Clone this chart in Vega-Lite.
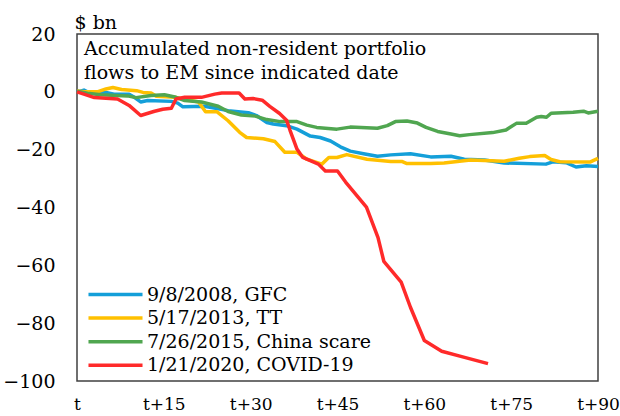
{
  "$schema": "https://vega.github.io/schema/vega-lite/v6.json",
  "width": 521,
  "height": 347,
  "autosize": "none",
  "padding": {"left": 77, "top": 34, "right": 22, "bottom": 35},
  "config": {
    "view": {"stroke": "#404040", "strokeWidth": 1.5},
    "font": "DejaVu Serif"
  },
  "title": {
    "text": ["Accumulated non-resident portfolio", "flows to EM since indicated date"],
    "anchor": "start",
    "frame": "group",
    "offset": -70,
    "dx": 7,
    "fontSize": 19,
    "fontWeight": "normal",
    "font": "DejaVu Serif",
    "color": "#000000",
    "lineHeight": 24,
    "baseline": "top"
  },
  "datasets": {
    "flows": [
      {"event": "9/8/2008, GFC", "day": 0, "flow": 0},
      {"event": "9/8/2008, GFC", "day": 1.2, "flow": 0.6},
      {"event": "9/8/2008, GFC", "day": 1.8, "flow": 0},
      {"event": "9/8/2008, GFC", "day": 5, "flow": -0.2},
      {"event": "9/8/2008, GFC", "day": 6.4, "flow": -0.8},
      {"event": "9/8/2008, GFC", "day": 9, "flow": -0.8},
      {"event": "9/8/2008, GFC", "day": 9.9, "flow": -1.9},
      {"event": "9/8/2008, GFC", "day": 11, "flow": -3.5},
      {"event": "9/8/2008, GFC", "day": 12.2, "flow": -3},
      {"event": "9/8/2008, GFC", "day": 16.3, "flow": -3.3},
      {"event": "9/8/2008, GFC", "day": 17.4, "flow": -3.9},
      {"event": "9/8/2008, GFC", "day": 18.3, "flow": -5.2},
      {"event": "9/8/2008, GFC", "day": 22, "flow": -5},
      {"event": "9/8/2008, GFC", "day": 26.1, "flow": -6.5},
      {"event": "9/8/2008, GFC", "day": 29.6, "flow": -7.2},
      {"event": "9/8/2008, GFC", "day": 31, "flow": -8.2},
      {"event": "9/8/2008, GFC", "day": 32.8, "flow": -10.6},
      {"event": "9/8/2008, GFC", "day": 33.9, "flow": -11.1},
      {"event": "9/8/2008, GFC", "day": 36.2, "flow": -11.7},
      {"event": "9/8/2008, GFC", "day": 38, "flow": -12.9},
      {"event": "9/8/2008, GFC", "day": 40.3, "flow": -15.3},
      {"event": "9/8/2008, GFC", "day": 42, "flow": -15.8},
      {"event": "9/8/2008, GFC", "day": 43.8, "flow": -17},
      {"event": "9/8/2008, GFC", "day": 45.5, "flow": -19},
      {"event": "9/8/2008, GFC", "day": 47.2, "flow": -20.5},
      {"event": "9/8/2008, GFC", "day": 49.5, "flow": -21.4},
      {"event": "9/8/2008, GFC", "day": 51.9, "flow": -22.3},
      {"event": "9/8/2008, GFC", "day": 54.2, "flow": -21.8},
      {"event": "9/8/2008, GFC", "day": 57.6, "flow": -21.4},
      {"event": "9/8/2008, GFC", "day": 61.1, "flow": -22.5},
      {"event": "9/8/2008, GFC", "day": 64.6, "flow": -22.3},
      {"event": "9/8/2008, GFC", "day": 66.9, "flow": -23.3},
      {"event": "9/8/2008, GFC", "day": 70.4, "flow": -23.6},
      {"event": "9/8/2008, GFC", "day": 73.8, "flow": -24.6},
      {"event": "9/8/2008, GFC", "day": 81, "flow": -25},
      {"event": "9/8/2008, GFC", "day": 82.2, "flow": -24.2},
      {"event": "9/8/2008, GFC", "day": 84.5, "flow": -24.5},
      {"event": "9/8/2008, GFC", "day": 86.2, "flow": -26},
      {"event": "9/8/2008, GFC", "day": 88, "flow": -25.6},
      {"event": "9/8/2008, GFC", "day": 90, "flow": -25.8},

      {"event": "5/17/2013, TT", "day": 0, "flow": 0.3},
      {"event": "5/17/2013, TT", "day": 1.2, "flow": 0},
      {"event": "5/17/2013, TT", "day": 3.5, "flow": 0},
      {"event": "5/17/2013, TT", "day": 5, "flow": 1},
      {"event": "5/17/2013, TT", "day": 6.2, "flow": 1.5},
      {"event": "5/17/2013, TT", "day": 7.7, "flow": 0.8},
      {"event": "5/17/2013, TT", "day": 10.3, "flow": 0.4},
      {"event": "5/17/2013, TT", "day": 11.4, "flow": -0.2},
      {"event": "5/17/2013, TT", "day": 12.8, "flow": -0.4},
      {"event": "5/17/2013, TT", "day": 13.7, "flow": -1.5},
      {"event": "5/17/2013, TT", "day": 16.9, "flow": -1.9},
      {"event": "5/17/2013, TT", "day": 21, "flow": -3.5},
      {"event": "5/17/2013, TT", "day": 22.2, "flow": -6.9},
      {"event": "5/17/2013, TT", "day": 24.2, "flow": -6.9},
      {"event": "5/17/2013, TT", "day": 26.1, "flow": -10},
      {"event": "5/17/2013, TT", "day": 28.1, "flow": -14},
      {"event": "5/17/2013, TT", "day": 29.3, "flow": -15.8},
      {"event": "5/17/2013, TT", "day": 32.2, "flow": -16.2},
      {"event": "5/17/2013, TT", "day": 34.2, "flow": -17.2},
      {"event": "5/17/2013, TT", "day": 35.9, "flow": -20.9},
      {"event": "5/17/2013, TT", "day": 38, "flow": -20.9},
      {"event": "5/17/2013, TT", "day": 39.7, "flow": -23.3},
      {"event": "5/17/2013, TT", "day": 42.3, "flow": -25},
      {"event": "5/17/2013, TT", "day": 43.5, "flow": -22.7},
      {"event": "5/17/2013, TT", "day": 44.9, "flow": -22.7},
      {"event": "5/17/2013, TT", "day": 46.6, "flow": -21.7},
      {"event": "5/17/2013, TT", "day": 50.1, "flow": -23.3},
      {"event": "5/17/2013, TT", "day": 54.2, "flow": -24.1},
      {"event": "5/17/2013, TT", "day": 56.2, "flow": -24.1},
      {"event": "5/17/2013, TT", "day": 57, "flow": -24.8},
      {"event": "5/17/2013, TT", "day": 61.1, "flow": -24.8},
      {"event": "5/17/2013, TT", "day": 63.4, "flow": -24.6},
      {"event": "5/17/2013, TT", "day": 68, "flow": -23.6},
      {"event": "5/17/2013, TT", "day": 73.8, "flow": -24},
      {"event": "5/17/2013, TT", "day": 76.4, "flow": -23},
      {"event": "5/17/2013, TT", "day": 78.2, "flow": -22.4},
      {"event": "5/17/2013, TT", "day": 80.8, "flow": -22},
      {"event": "5/17/2013, TT", "day": 81.9, "flow": -23.4},
      {"event": "5/17/2013, TT", "day": 83.4, "flow": -24.2},
      {"event": "5/17/2013, TT", "day": 88.6, "flow": -24.3},
      {"event": "5/17/2013, TT", "day": 90, "flow": -23},

      {"event": "7/26/2015, China scare", "day": 0, "flow": 0.2},
      {"event": "7/26/2015, China scare", "day": 1.8, "flow": -0.5},
      {"event": "7/26/2015, China scare", "day": 4.1, "flow": -1},
      {"event": "7/26/2015, China scare", "day": 8.7, "flow": -1.4},
      {"event": "7/26/2015, China scare", "day": 10.2, "flow": -2},
      {"event": "7/26/2015, China scare", "day": 12.8, "flow": -1.3},
      {"event": "7/26/2015, China scare", "day": 15.1, "flow": -1},
      {"event": "7/26/2015, China scare", "day": 17.1, "flow": -1.9},
      {"event": "7/26/2015, China scare", "day": 18.6, "flow": -3},
      {"event": "7/26/2015, China scare", "day": 21.5, "flow": -3.5},
      {"event": "7/26/2015, China scare", "day": 24.4, "flow": -5},
      {"event": "7/26/2015, China scare", "day": 26.1, "flow": -6.8},
      {"event": "7/26/2015, China scare", "day": 28.4, "flow": -8},
      {"event": "7/26/2015, China scare", "day": 30.8, "flow": -8.4},
      {"event": "7/26/2015, China scare", "day": 32.8, "flow": -9.6},
      {"event": "7/26/2015, China scare", "day": 35.1, "flow": -10.3},
      {"event": "7/26/2015, China scare", "day": 38, "flow": -10.3},
      {"event": "7/26/2015, China scare", "day": 39.7, "flow": -11.5},
      {"event": "7/26/2015, China scare", "day": 41.4, "flow": -12.3},
      {"event": "7/26/2015, China scare", "day": 44.9, "flow": -12.9},
      {"event": "7/26/2015, China scare", "day": 47.2, "flow": -12.2},
      {"event": "7/26/2015, China scare", "day": 51.9, "flow": -12.6},
      {"event": "7/26/2015, China scare", "day": 53.6, "flow": -11.7},
      {"event": "7/26/2015, China scare", "day": 55, "flow": -10.3},
      {"event": "7/26/2015, China scare", "day": 57, "flow": -10.1},
      {"event": "7/26/2015, China scare", "day": 58.8, "flow": -10.8},
      {"event": "7/26/2015, China scare", "day": 60.3, "flow": -12.3},
      {"event": "7/26/2015, China scare", "day": 62.3, "flow": -13.7},
      {"event": "7/26/2015, China scare", "day": 64.6, "flow": -14.6},
      {"event": "7/26/2015, China scare", "day": 66.1, "flow": -15.2},
      {"event": "7/26/2015, China scare", "day": 67.8, "flow": -14.8},
      {"event": "7/26/2015, China scare", "day": 71.8, "flow": -14.1},
      {"event": "7/26/2015, China scare", "day": 74.1, "flow": -13.2},
      {"event": "7/26/2015, China scare", "day": 75.9, "flow": -10.9},
      {"event": "7/26/2015, China scare", "day": 77.6, "flow": -10.9},
      {"event": "7/26/2015, China scare", "day": 79.4, "flow": -8.8},
      {"event": "7/26/2015, China scare", "day": 80.2, "flow": -8.5},
      {"event": "7/26/2015, China scare", "day": 81.1, "flow": -8.8},
      {"event": "7/26/2015, China scare", "day": 81.9, "flow": -7.4},
      {"event": "7/26/2015, China scare", "day": 85.7, "flow": -7.1},
      {"event": "7/26/2015, China scare", "day": 87.5, "flow": -6.7},
      {"event": "7/26/2015, China scare", "day": 88.3, "flow": -7.3},
      {"event": "7/26/2015, China scare", "day": 90, "flow": -6.7},

      {"event": "1/21/2020, COVID-19", "day": 0, "flow": 0},
      {"event": "1/21/2020, COVID-19", "day": 1.2, "flow": -0.8},
      {"event": "1/21/2020, COVID-19", "day": 3, "flow": -2},
      {"event": "1/21/2020, COVID-19", "day": 7, "flow": -2.5},
      {"event": "1/21/2020, COVID-19", "day": 9, "flow": -4.7},
      {"event": "1/21/2020, COVID-19", "day": 11, "flow": -8.2},
      {"event": "1/21/2020, COVID-19", "day": 13.4, "flow": -6.7},
      {"event": "1/21/2020, COVID-19", "day": 14.8, "flow": -6},
      {"event": "1/21/2020, COVID-19", "day": 16.3, "flow": -5.7},
      {"event": "1/21/2020, COVID-19", "day": 17.1, "flow": -2.5},
      {"event": "1/21/2020, COVID-19", "day": 18.6, "flow": -1.9},
      {"event": "1/21/2020, COVID-19", "day": 21.5, "flow": -1.9},
      {"event": "1/21/2020, COVID-19", "day": 23.8, "flow": -0.8},
      {"event": "1/21/2020, COVID-19", "day": 25, "flow": -0.4},
      {"event": "1/21/2020, COVID-19", "day": 28, "flow": -0.4},
      {"event": "1/21/2020, COVID-19", "day": 29, "flow": -2.5},
      {"event": "1/21/2020, COVID-19", "day": 30.4, "flow": -2.3},
      {"event": "1/21/2020, COVID-19", "day": 32, "flow": -2.9},
      {"event": "1/21/2020, COVID-19", "day": 33.3, "flow": -5},
      {"event": "1/21/2020, COVID-19", "day": 35, "flow": -7.5},
      {"event": "1/21/2020, COVID-19", "day": 36.2, "flow": -9.8},
      {"event": "1/21/2020, COVID-19", "day": 36.8, "flow": -13.3},
      {"event": "1/21/2020, COVID-19", "day": 38, "flow": -19.8},
      {"event": "1/21/2020, COVID-19", "day": 39, "flow": -22.7},
      {"event": "1/21/2020, COVID-19", "day": 41.7, "flow": -25},
      {"event": "1/21/2020, COVID-19", "day": 42.9, "flow": -27.4},
      {"event": "1/21/2020, COVID-19", "day": 45, "flow": -27.4},
      {"event": "1/21/2020, COVID-19", "day": 46.4, "flow": -31.2},
      {"event": "1/21/2020, COVID-19", "day": 50, "flow": -39.9},
      {"event": "1/21/2020, COVID-19", "day": 52, "flow": -50.4},
      {"event": "1/21/2020, COVID-19", "day": 53, "flow": -58.6},
      {"event": "1/21/2020, COVID-19", "day": 56, "flow": -65.8},
      {"event": "1/21/2020, COVID-19", "day": 57.6, "flow": -74.5},
      {"event": "1/21/2020, COVID-19", "day": 60, "flow": -86},
      {"event": "1/21/2020, COVID-19", "day": 63, "flow": -89.7},
      {"event": "1/21/2020, COVID-19", "day": 66.3, "flow": -91.5},
      {"event": "1/21/2020, COVID-19", "day": 71, "flow": -94}
    ]
  },
  "layer": [
    {
      "data": {"name": "flows"},
      "mark": {"type": "line", "strokeWidth": 3.5, "strokeCap": "butt", "strokeJoin": "round"},
      "encoding": {
        "x": {
          "field": "day",
          "type": "quantitative",
          "scale": {"domain": [0, 90], "nice": false, "zero": false},
          "axis": {
            "values": [0, 15, 30, 45, 60, 75, 90],
            "labelExpr": "datum.value == 0 ? 't' : 't+' + datum.value",
            "title": null,
            "ticks": false,
            "domain": false,
            "grid": false,
            "labelFlush": false,
            "labelOverlap": false,
            "labelPadding": 15,
            "labelFontSize": 17,
            "labelColor": "#000000",
            "labelFont": "DejaVu Serif"
          }
        },
        "y": {
          "field": "flow",
          "type": "quantitative",
          "scale": {"domain": [-100, 20], "nice": false, "zero": false},
          "axis": {
            "values": [-100, -80, -60, -40, -20, 0, 20],
            "title": "$ bn",
            "titleAngle": 0,
            "titleAlign": "left",
            "titleBaseline": "alphabetic",
            "titleX": -3,
            "titleY": -6,
            "titleFontSize": 19,
            "titleFontWeight": "normal",
            "titleColor": "#000000",
            "titleFont": "DejaVu Serif",
            "ticks": false,
            "domain": false,
            "grid": false,
            "labelPadding": 22,
            "labelFontSize": 19,
            "labelColor": "#000000",
            "labelFont": "DejaVu Serif"
          }
        },
        "color": {
          "field": "event",
          "type": "nominal",
          "scale": {
            "domain": ["9/8/2008, GFC", "5/17/2013, TT", "7/26/2015, China scare", "1/21/2020, COVID-19"],
            "range": ["#149fd9", "#ffc000", "#50a650", "#ff2a2a"]
          },
          "legend": {
            "orient": "none",
            "legendX": 11,
            "legendY": 251,
            "title": null,
            "padding": 0,
            "symbolType": "M-3.86,0H3.86",
            "symbolSize": 196,
            "symbolStrokeWidth": 3.5,
            "symbolOffset": 18,
            "labelFontSize": 19,
            "labelFont": "DejaVu Serif",
            "labelColor": "#000000",
            "labelOffset": 22,
            "labelLimit": 400,
            "rowPadding": 3.6
          }
        }
      }
    },
    {
      "mark": {"type": "rule", "color": "#404040", "strokeWidth": 1.5},
      "encoding": {"y": {"datum": 0}}
    }
  ]
}
